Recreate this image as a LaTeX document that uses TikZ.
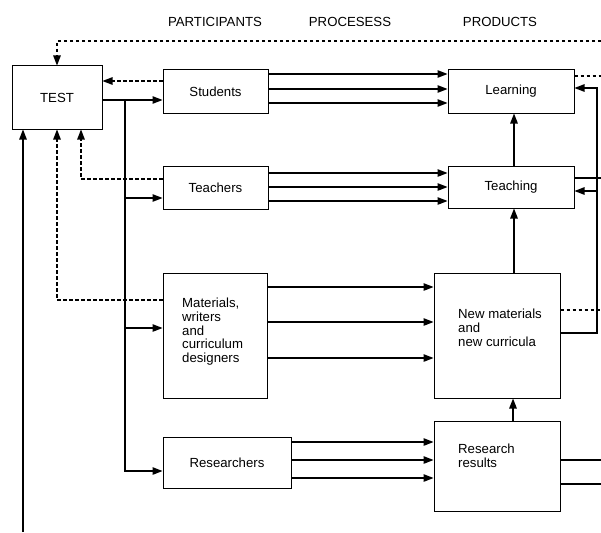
\documentclass[tikz,border=0pt]{standalone}
\usepackage{fontspec}
\setmainfont{Liberation Sans}
\usetikzlibrary{arrows.meta}
\begin{document}
\begin{tikzpicture}[x=1pt, y=-1pt, >={Triangle[length=10pt,width=7.5pt]},
        box/.style={draw, line width=1pt, inner sep=0pt, font=\fontsize{13.2}{13.7}\selectfont},
        lbl/.style={inner sep=0pt, align=left, font=\fontsize{13.2}{13.7}\selectfont},
        link/.style={line width=1.3pt},
        flow/.style={link, ->},
        dlink/.style={link, dash pattern=on 3.5pt off 2.5pt},
        fback/.style={dlink, ->}]
        \useasboundingbox (0,0) rectangle (601,532);

        % Headings
        \node[lbl] (hpart) at (215,22) {PARTICIPANTS};
        \node[lbl] (hproc) at (350,22) {PROCESESS};
        \node[lbl] (hprod) at (500,22) {PRODUCTS};

        % Nodes
        \node[box, minimum width=90pt, minimum height=63pt] (test) at (57,97.5) {TEST};
        \node[box, minimum width=105pt, minimum height=43pt] (students) at (215.5,91.5) {Students};
        \node[box, minimum width=105pt, minimum height=43pt] (teachers) at (215.5,187.5) {Teachers};
        \node[box, minimum width=104pt, minimum height=125pt] (materials) at (215,335.5) {};
        \node[box, minimum width=128pt, minimum height=51pt] (researchers) at (227,462.5) {Researchers};
        \node[box, minimum width=126pt, minimum height=43pt] (learning) at (511,91.5) {Learning};
        \node[box, minimum width=126pt, minimum height=42pt] (teaching) at (511,187) {Teaching};
        \node[box, minimum width=126pt, minimum height=125pt] (newmat) at (497,335.5) {};
        \node[box, minimum width=126pt, minimum height=90pt] (results) at (497,466) {};
        \node[lbl, anchor=north west] (materials-txt) at (182,298) {Materials,\\writers\\and\\curriculum\\designers};
        \node[lbl, anchor=north west] (newmat-txt) at (458,309) {New materials\\and\\new curricula};
        \node[lbl, anchor=north west] (results-txt) at (458,444) {Research\\results};

        % Coordinates
        \coordinate (topend) at (601,41);
        \coordinate (bottomend) at (23,532);
        \coordinate (redge) at (601,0);
        \coordinate (trunk) at (125,100);
        \coordinate (rbus) at (597,88);
        \coordinate (tin) at ([yshift=-10.5pt]teachers.west);
        \coordinate (min) at ([yshift=7.5pt]materials.west);
        \coordinate (tbk) at ([yshift=-4pt]teaching.east);

        % Arrows to TEST
        \draw[fback] (topend) -| (test.north);
        \draw[fback] ([yshift=10.5pt]students.west) coordinate (s) -- (s -| test.east);
        \draw[fback] ([yshift=8.5pt]teachers.west) -| ([xshift=24pt]test.south);
        \draw[fback] ([yshift=35.5pt]materials.west) -| (test.south);
        \draw[flow] (bottomend) -- (bottomend |- test.south);

        % Arrows from TEST
        \draw[flow] (test.east |- trunk) -- (trunk -| students.west);
        \draw[flow] (trunk) |- ([yshift=-8.5pt]researchers.west);
        \draw[flow] (trunk |- tin) -- (tin);
        \draw[flow] (trunk |- min) -- (min);

        % Processes
        \foreach \d in {17.5,2.5,-11.5}
            \draw[flow] ([yshift=\d pt]students.east) coordinate (s) -- (s -| learning.west);
        \foreach \d in {14.5,0.5,-13.5}
            \draw[flow] ([yshift=\d pt]teachers.east) coordinate (s) -- (s -| teaching.west);
        \foreach \d in {48.5,13.5,-22.5}
            \draw[flow] ([yshift=\d pt]materials.east) coordinate (s) -- (s -| newmat.west);
        \foreach \d in {20.5,2.5,-15.5}
            \draw[flow] ([yshift=\d pt]researchers.east) coordinate (s) -- (s -| results.west);

        % Products
        \draw[flow] ([xshift=3pt]teaching.north) -- ([xshift=3pt]learning.south);
        \draw[flow] ([xshift=3pt]teaching.south |- newmat.north) -- ([xshift=3pt]teaching.south);
        \draw[flow] ([xshift=16pt]results.north) -- ([xshift=16pt]newmat.south);
        \draw[flow] ([yshift=2.5pt]newmat.east) -| (rbus) -- (rbus -| learning.east);
        \draw[flow] (rbus |- tbk) -- (tbk);

        % Out to the right
        \draw[dlink] ([yshift=15.5pt]learning.east) coordinate (s) -- (s -| redge);
        \draw[link] ([yshift=9pt]teaching.east) coordinate (s) -- (s -| redge);
        \draw[dlink] ([yshift=25.5pt]newmat.east) coordinate (s) -- (s -| redge);
        \draw[link] ([yshift=6pt]results.east) coordinate (s) -- (s -| redge);
        \draw[link] ([yshift=-18pt]results.east) coordinate (s) -- (s -| redge);
    \end{tikzpicture}
\end{document}
